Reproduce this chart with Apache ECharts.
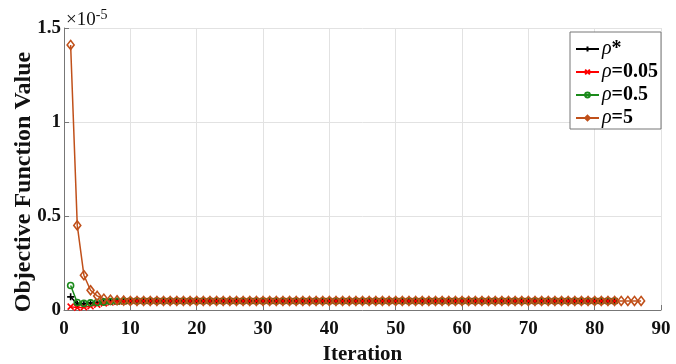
<!DOCTYPE html>
<html>
<head>
<meta charset="utf-8">
<script src="https://cdn.jsdelivr.net/npm/echarts@6/dist/echarts.min.js"></script>
<style>
  html, body { margin: 0; padding: 0; background: #fff; }
  #myChart { width: 676px; height: 364px; }
</style>
</head>
<body>
<div id="myChart"></div>
<script>
// values in units of 1e-5, iteration = index + 1
const seriesNames = ['ρ*', 'ρ=0.05', 'ρ=0.5', 'ρ=5']
const rhoStar = [
  0.07, 0.03, 0.033, 0.037, 0.04, 0.043, 0.045, 0.047, 0.048, 0.048,
  0.048, 0.048, 0.048, 0.048, 0.048, 0.048, 0.048, 0.048, 0.048, 0.048,
  0.048, 0.048, 0.048, 0.048, 0.048, 0.048, 0.048, 0.048, 0.048, 0.048,
  0.048, 0.048, 0.048, 0.048, 0.048, 0.048, 0.048, 0.048, 0.048, 0.048,
  0.048, 0.048, 0.048, 0.048, 0.048, 0.048, 0.048, 0.048, 0.048, 0.048,
  0.048, 0.048, 0.048, 0.048, 0.048, 0.048, 0.048, 0.048, 0.048, 0.048,
  0.048, 0.048, 0.048, 0.048, 0.048, 0.048, 0.048, 0.048, 0.048, 0.048,
  0.048, 0.048, 0.048, 0.048, 0.048, 0.048, 0.048, 0.048, 0.048, 0.048,
  0.048, 0.048, 0.048
]
const rho005 = [
  0.018, 0.012, 0.015, 0.02, 0.028, 0.035, 0.04, 0.044, 0.046, 0.048,
  0.048, 0.048, 0.048, 0.048, 0.048, 0.048, 0.048, 0.048, 0.048, 0.048,
  0.048, 0.048, 0.048, 0.048, 0.048, 0.048, 0.048, 0.048, 0.048, 0.048,
  0.048, 0.048, 0.048, 0.048, 0.048, 0.048, 0.048, 0.048, 0.048, 0.048,
  0.048, 0.048, 0.048, 0.048, 0.048, 0.048, 0.048, 0.048, 0.048, 0.048,
  0.048, 0.048, 0.048, 0.048, 0.048, 0.048, 0.048, 0.048, 0.048, 0.048,
  0.048, 0.048, 0.048, 0.048, 0.048, 0.048, 0.048, 0.048, 0.048, 0.048,
  0.048, 0.048, 0.048, 0.048, 0.048, 0.048, 0.048, 0.048, 0.048, 0.048,
  0.048, 0.048, 0.048
]
const rho05 = [
  0.13, 0.04, 0.035, 0.038, 0.04, 0.042, 0.045, 0.046, 0.047, 0.048,
  0.048, 0.048, 0.048, 0.048, 0.048, 0.048, 0.048, 0.048, 0.048, 0.048,
  0.048, 0.048, 0.048, 0.048, 0.048, 0.048, 0.048, 0.048, 0.048, 0.048,
  0.048, 0.048, 0.048, 0.048, 0.048, 0.048, 0.048, 0.048, 0.048, 0.048,
  0.048, 0.048, 0.048, 0.048, 0.048, 0.048, 0.048, 0.048, 0.048, 0.048,
  0.048, 0.048, 0.048, 0.048, 0.048, 0.048, 0.048, 0.048, 0.048, 0.048,
  0.048, 0.048, 0.048, 0.048, 0.048, 0.048, 0.048, 0.048, 0.048, 0.048,
  0.048, 0.048, 0.048, 0.048, 0.048, 0.048, 0.048, 0.048, 0.048, 0.048,
  0.048, 0.048, 0.048
]
const rho5 = [
  1.41, 0.45, 0.185, 0.105, 0.075, 0.06, 0.055, 0.052, 0.05, 0.048,
  0.048, 0.048, 0.048, 0.048, 0.048, 0.048, 0.048, 0.048, 0.048, 0.048,
  0.048, 0.048, 0.048, 0.048, 0.048, 0.048, 0.048, 0.048, 0.048, 0.048,
  0.048, 0.048, 0.048, 0.048, 0.048, 0.048, 0.048, 0.048, 0.048, 0.048,
  0.048, 0.048, 0.048, 0.048, 0.048, 0.048, 0.048, 0.048, 0.048, 0.048,
  0.048, 0.048, 0.048, 0.048, 0.048, 0.048, 0.048, 0.048, 0.048, 0.048,
  0.048, 0.048, 0.048, 0.048, 0.048, 0.048, 0.048, 0.048, 0.048, 0.048,
  0.048, 0.048, 0.048, 0.048, 0.048, 0.048, 0.048, 0.048, 0.048, 0.048,
  0.048, 0.048, 0.048, 0.048, 0.048, 0.048, 0.048
]
const xTicks = [0, 10, 20, 30, 40, 50, 60, 70, 80, 90]
const yTicks = [0, 0.5, 1, 1.5]

const colors = ['#000000', '#ff0000', '#1a8a1a', '#c0501a']
const plusPath = 'path://M5,0L5,10M0,5L10,5'
const crossPath = 'path://M0,0L10,10M10,0L0,10'
const FONT = '"Liberation Serif", "DejaVu Serif", serif'

function toPoints (arr) {
  return arr.map((v, i) => [i + 1, v])
}

function makeSeries (name, data, color, symbol, size) {
  return {
    name: name,
    type: 'line',
    data: toPoints(data),
    symbol: symbol,
    symbolSize: size,
    showAllSymbol: true,
    lineStyle: { color: color, width: 1.5 },
    itemStyle: { color: 'rgba(255,255,255,0)', borderColor: color, borderWidth: 1.6 },
    emphasis: { disabled: true },
    z: 2
  }
}

let myChart = echarts.init(document.getElementById('myChart'))
myChart.setOption({
  backgroundColor: '#fff',
  animation: false,
  grid: { left: 64, right: 15, top: 28, bottom: 54, outerBoundsMode: 'none', containLabel: false },
  legend: {
    orient: 'vertical',
    right: 15,
    top: 32,
    itemWidth: 23,
    itemHeight: 6,
    itemGap: 3,
    padding: [7, 3, 1, 5],
    borderColor: '#777',
    borderWidth: 1,
    backgroundColor: '#fff',
    data: seriesNames,
    formatter: function (name) {
      return '{i|ρ}{b|' + name.slice(1) + '}'
    },
    textStyle: {
      padding: [0, 0, 0, -2],
      rich: {
        i: { fontFamily: FONT, fontStyle: 'italic', fontSize: 20, lineHeight: 18, color: '#000' },
        b: { fontFamily: FONT, fontWeight: 'bold', fontSize: 20, lineHeight: 18, color: '#000' }
      }
    }
  },
  xAxis: {
    type: 'value',
    min: xTicks[0],
    max: xTicks[xTicks.length - 1],
    interval: 10,
    name: 'Iteration',
    nameLocation: 'middle',
    nameGap: 34,
    nameTextStyle: { fontFamily: FONT, fontWeight: 'bold', fontSize: 21, color: '#111' },
    axisLine: { lineStyle: { color: '#777', width: 1 } },
    axisTick: { inside: true, length: 5, lineStyle: { color: '#777' } },
    axisLabel: { fontFamily: FONT, fontWeight: 'bold', fontSize: 19, color: '#111', margin: 10 },
    splitLine: { show: true, lineStyle: { color: '#e2e2e2' } }
  },
  yAxis: {
    type: 'value',
    min: yTicks[0],
    max: yTicks[yTicks.length - 1],
    interval: 0.5,
    name: 'Objective Function Value',
    nameLocation: 'middle',
    nameGap: 28,
    nameMoveOverlap: false,
    nameTextStyle: { fontFamily: FONT, fontWeight: 'bold', fontSize: 24, color: '#111', padding: [0, 26, 0, 0] },
    axisLine: { show: true, lineStyle: { color: '#777', width: 1 } },
    axisTick: { show: true, inside: true, length: 5, lineStyle: { color: '#777' } },
    axisLabel: { fontFamily: FONT, fontWeight: 'bold', fontSize: 19, color: '#111', margin: 3 },
    splitLine: { show: true, lineStyle: { color: '#e2e2e2' } }
  },
  graphic: [
    {
      type: 'text',
      left: 66,
      top: 8,
      style: {
        text: '{a|×10}{s|-5}',
        rich: {
          a: { fontFamily: FONT, fontSize: 19, fill: '#111' },
          s: { fontFamily: FONT, fontSize: 14, fill: '#111', verticalAlign: 'top', padding: [0, 0, 10, 0] }
        }
      }
    }
  ],
  series: [
    makeSeries(seriesNames[0], rhoStar, colors[0], plusPath, 7),
    makeSeries(seriesNames[1], rho005, colors[1], crossPath, 6),
    makeSeries(seriesNames[2], rho05, colors[2], 'circle', 6),
    makeSeries(seriesNames[3], rho5, colors[3], 'diamond', [7, 9])
  ]
})
</script>
</body>
</html>
